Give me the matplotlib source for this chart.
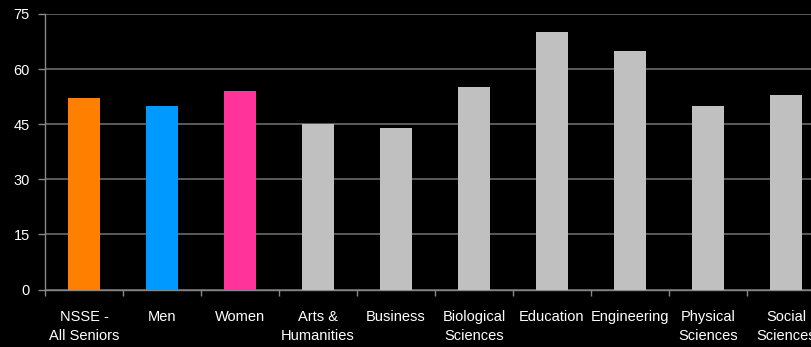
import numpy as np
import matplotlib.pyplot as plt
from matplotlib.ticker import FixedLocator

plt.rcParams['font.family'] = ['Liberation Sans', 'DejaVu Sans']

# data
categories = ['NSSE -\nAll Seniors', 'Men', 'Women', 'Arts &\nHumanities', 'Business',
              'Biological\nSciences', 'Education', 'Engineering', 'Physical\nSciences',
              'Social\nSciences']
values = [52, 50, 54, 45, 44, 55, 70, 65, 50, 53]
bar_colors = ['#FF7F00', '#0099FF', '#FF3399'] + ['#C0C0C0'] * 7
yticks = [0, 15, 30, 45, 60, 75]

fig = plt.figure(figsize=(8.12, 3.47), dpi=100, facecolor='black')
# the plot runs past the right edge of the image, as in the reference
ax = fig.add_axes([45 / 812, 1 - 289.5 / 347, 780 / 812, 275.5 / 347])
ax.set_facecolor('black')

x = np.arange(len(categories))
ax.bar(x, values, width=0.41, color=bar_colors, zorder=3)

ax.set_xlim(-0.5, len(categories) - 0.5)
ax.set_ylim(0, 75)
ax.set_yticks(yticks)
ax.yaxis.grid(True, color='#6a6a6a', linewidth=1.2, zorder=0)

ax.set_xticks(x)
ax.set_xticklabels(categories, color='white', fontsize=10.5, linespacing=1.45)
ax.tick_params(axis='x', which='major', length=0, pad=15)
ax.xaxis.set_minor_locator(FixedLocator(np.arange(-0.5, len(categories), 1)))
ax.tick_params(axis='x', which='minor', length=4, color='#888888', width=1)
ax.tick_params(axis='y', length=5, color='#888888', width=1, labelcolor='white',
               labelsize=10.5, pad=6)

for side in ['top', 'right']:
    ax.spines[side].set_visible(False)
for side in ['left', 'bottom']:
    ax.spines[side].set_color('#888888')
    ax.spines[side].set_linewidth(1)

fig.savefig('out.png', dpi=100, facecolor='black')
